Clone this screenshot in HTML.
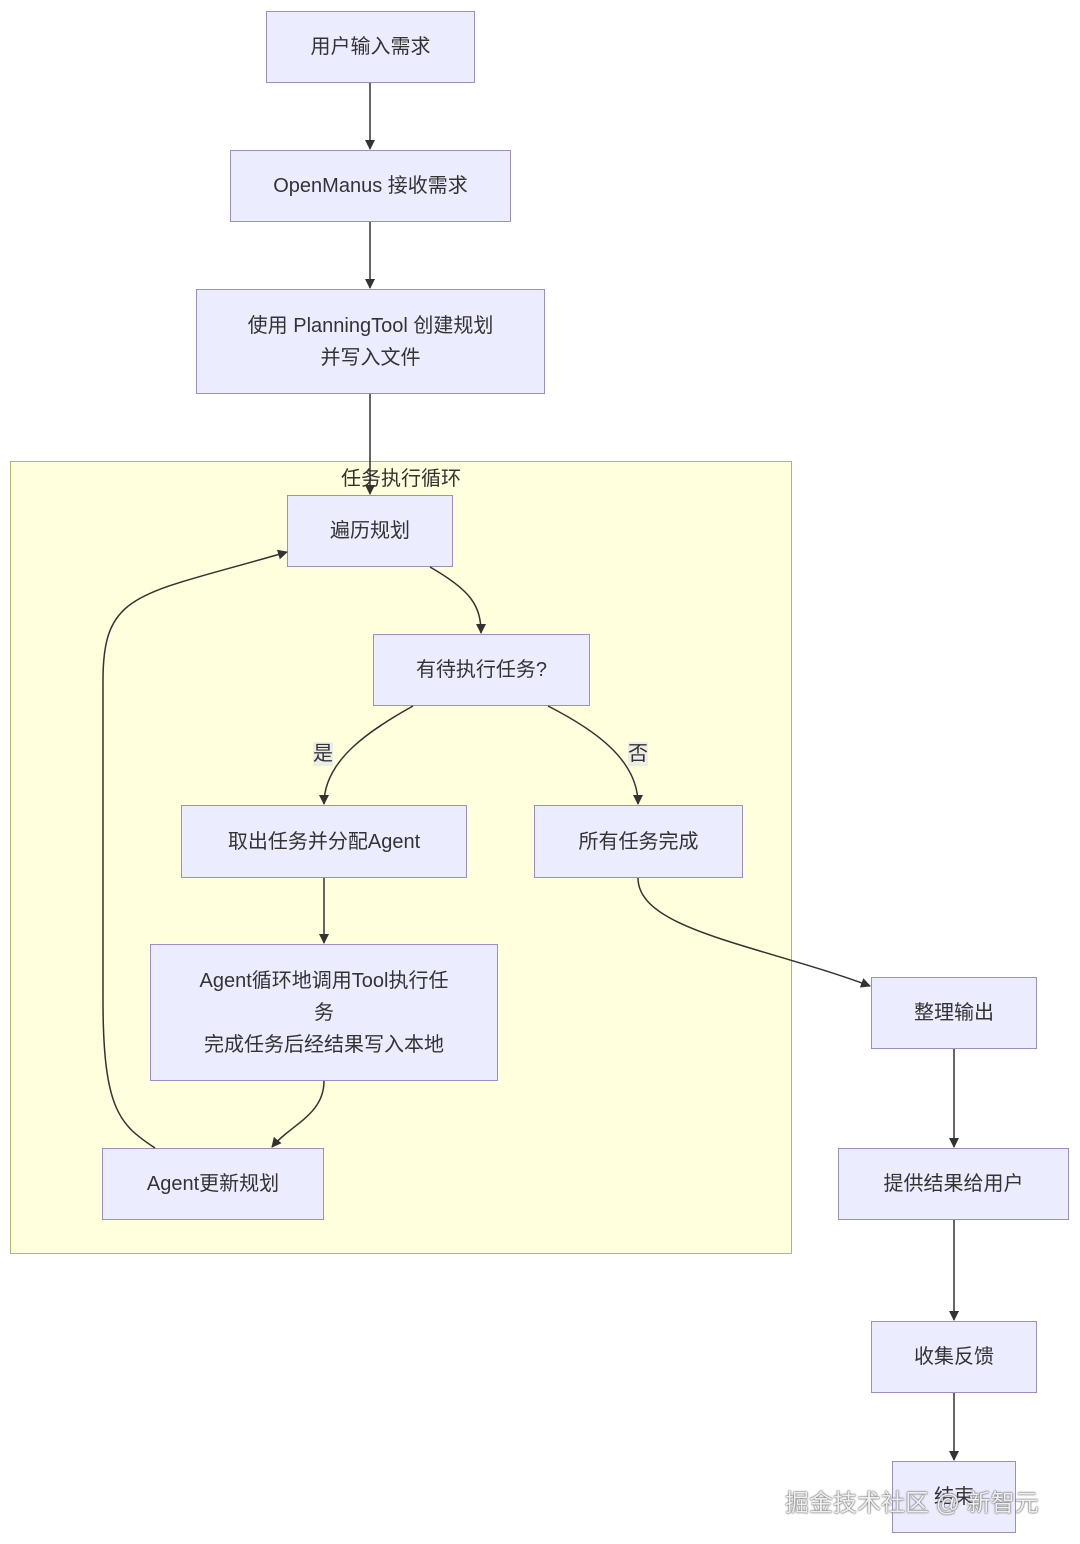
<!DOCTYPE html>
<html><head><meta charset="utf-8"><style>
html,body{margin:0;padding:0;background:#fff;}
body{width:1080px;height:1544px;position:relative;overflow:hidden;font-family:"Liberation Sans","Noto Sans CJK SC",sans-serif;}
.n{position:absolute;box-sizing:border-box;background:#ececff;border:1.5px solid #9c8fc9;display:flex;align-items:center;justify-content:center;text-align:center;font-size:20px;color:#333;line-height:32px;}
.cl{position:absolute;left:10px;top:461px;width:782px;height:793px;box-sizing:border-box;background:#ffffde;border:1.5px solid #b5b56a;}
svg{position:absolute;left:0;top:0;}
.lbl{position:absolute;font-size:20px;color:#333;background:rgba(232,232,232,0.8);line-height:24px;}
</style></head><body>
<div class="cl"></div>
<div style="position:absolute;left:0;width:802px;top:462px;text-align:center;font-size:20px;color:#333;">任务执行循环</div>
<div class="n" style="left:266px;top:11px;width:209px;height:72px;">用户输入需求</div>
<div class="n" style="left:230px;top:150px;width:281px;height:72px;">OpenManus 接收需求</div>
<div class="n" style="left:196px;top:289px;width:349px;height:105px;">使用 PlanningTool 创建规划<br>并写入文件</div>
<div class="n" style="left:287px;top:495px;width:166px;height:72px;">遍历规划</div>
<div class="n" style="left:373px;top:634px;width:217px;height:72px;">有待执行任务?</div>
<div class="n" style="left:181px;top:805px;width:286px;height:73px;">取出任务并分配Agent</div>
<div class="n" style="left:534px;top:805px;width:209px;height:73px;">所有任务完成</div>
<div class="n" style="left:150px;top:944px;width:348px;height:137px;">Agent循环地调用Tool执行任<br>务<br>完成任务后经结果写入本地</div>
<div class="n" style="left:102px;top:1148px;width:222px;height:72px;">Agent更新规划</div>
<div class="n" style="left:871px;top:977px;width:166px;height:72px;">整理输出</div>
<div class="n" style="left:838px;top:1148px;width:231px;height:72px;">提供结果给用户</div>
<div class="n" style="left:871px;top:1321px;width:166px;height:72px;">收集反馈</div>
<div class="n" style="left:892px;top:1461px;width:124px;height:72px;">结束</div>
<svg width="1080" height="1544" viewBox="0 0 1080 1544">
<defs><marker id="a" markerWidth="10" markerHeight="10" refX="9" refY="5" orient="auto" markerUnits="userSpaceOnUse"><path d="M0,0 L10,5 L0,10 z" fill="#333"/></marker></defs>
<g fill="none" stroke="#333" stroke-width="1.5" marker-end="url(#a)">
<path d="M370,83 L370,149"/>
<path d="M370,222 L370,288"/>
<path d="M370,394 L370,494"/>
<path d="M430,567 C470,590 481,605 481,633"/>
<path d="M413,706 C370,730 324,760 324,804"/>
<path d="M548,706 C595,730 638,760 638,804"/>
<path d="M324,878 L324,943"/>
<path d="M324,1081 C324,1115 290,1125 272,1147"/>
<path d="M155,1148 C120,1125 103,1110 103,1000 L103,680 C103,590 140,595 287,552"/>
<path d="M638,878 C638,930 760,945 870,986"/>
<path d="M954,1049 L954,1147"/>
<path d="M954,1220 L954,1320"/>
<path d="M954,1393 L954,1460"/>
</g>
</svg>
<div class="lbl" style="left:313px;top:742px;">是</div>
<div class="lbl" style="left:628px;top:742px;">否</div>
<div style="position:absolute;left:785px;top:1483px;font-size:24px;color:#eee;text-shadow:0 0 2px #666,0 0 1px #333;">掘金技术社区 @ 新智元</div>
</body></html>
